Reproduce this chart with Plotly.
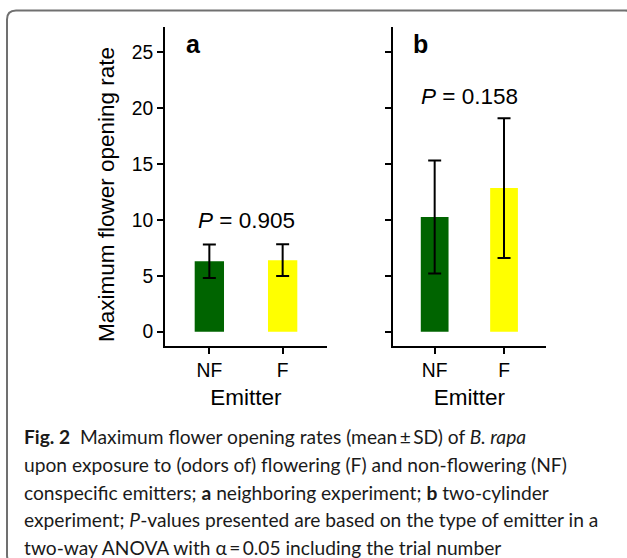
import plotly.graph_objects as go

# ---------------- data ----------------
categories = ["NF", "F"]
bar_colors = ["#006400", "#FFFF00"]
panel_labels = ["a", "b"]
means_a = [6.3, 6.4]
sd_a = [1.5, 1.42]
means_b = [10.25, 12.85]
sd_b = [5.05, 6.25]
p_values = ["0.905", "0.158"]
p_label_y = [9.95, 21.0]
y_ticks = [0, 5, 10, 15, 20, 25]
y_title = "Maximum flower opening rate"
x_title = "Emitter"
caption_lines = [
    "<b>Fig. 2</b>  Maximum flower opening rates (mean\u2009±\u2009SD) of <i>B. rapa</i>",
    "upon exposure to (odors of) flowering (F) and non-flowering (NF)",
    "conspecific emitters; <b>a</b> neighboring experiment; <b>b</b> two-cylinder",
    "experiment; <i>P</i>-values presented are based on the type of emitter in a",
    "two-way ANOVA with α\u2009=\u20090.05 including the trial number",
]

W, H = 627, 558
FONT = "Liberation Sans, Arial, sans-serif"
CAP_FONT = "Lato, Open Sans, sans-serif"

def px(x):
    return x / W

def py(y):
    return (H - y) / H

fig = go.Figure()
x_pos = list(range(len(categories)))

for i, (means, sds) in enumerate([(means_a, sd_a), (means_b, sd_b)]):
    xa = "x" if i == 0 else "x2"
    ya = "y" if i == 0 else "y2"
    fig.add_trace(go.Bar(
        x=x_pos, y=means, width=0.4,
        marker=dict(color=bar_colors, line=dict(width=0)),
        error_y=dict(type="data", array=sds, visible=True, color="black",
                     thickness=2, width=6.5),
        xaxis=xa, yaxis=ya, showlegend=False,
    ))

axis_common = dict(showline=True, linewidth=2, linecolor="black", ticks="outside",
                   ticklen=6, tickwidth=2, tickcolor="black", showgrid=False,
                   zeroline=False, tickfont=dict(family=FONT, size=19.3, color="black"))

x_dom = [(165, 327), (392.7, 546)]
y_dom = [py(346), py(27)]
for i in range(2):
    sfx = "" if i == 0 else "2"
    fig.update_layout(**{
        f"xaxis{sfx}": dict(axis_common, domain=[px(x_dom[i][0]), px(x_dom[i][1])],
                            range=[-0.605, 1.605], tickvals=x_pos, ticktext=categories,
                            anchor="y" + sfx,
                            title=dict(text=x_title, font=dict(family=FONT, size=22.5, color="black"),
                                       standoff=9)),
        f"yaxis{sfx}": dict(axis_common, domain=y_dom, range=[-1.28, 27.25],
                            tickvals=y_ticks, showticklabels=(i == 0),
                            anchor="x" + sfx),
    })
    fig.add_annotation(text=f"<b>{panel_labels[i]}</b>", xref=f"x{sfx} domain", yref="paper",
                       x=0.117, y=py(44), xanchor="left", yanchor="middle", showarrow=False,
                       font=dict(family=FONT, size=25, color="black"))
    fig.add_annotation(text=f"<i>P</i> = {p_values[i]}", xref="x" + sfx, yref="y" + sfx,
                       x=0.5, y=p_label_y[i], xanchor="center", yanchor="middle", showarrow=False,
                       font=dict(family=FONT, size=22.5, color="black"))

fig.add_annotation(text=y_title, xref="paper", yref="paper", x=px(106), y=py(195),
                   textangle=-90, showarrow=False, xanchor="center", yanchor="middle",
                   font=dict(family=FONT, size=22.5, color="black"))

cap_y = [436, 464, 492, 519, 547]
for line, yy in zip(caption_lines, cap_y):
    fig.add_annotation(text=line, xref="paper", yref="paper", x=px(22), y=py(yy),
                       xanchor="left", yanchor="middle", showarrow=False,
                       font=dict(family=CAP_FONT, size=19.2, color="#1a1a1a"))

# rounded border frame
x0, x1, y0, y1, r = 7, 634, 10.5, 564, 9
def P(x, y):
    return f"{px(x)},{py(y)}"
path = (f"M {P(x0, y0 + r)} Q {P(x0, y0)} {P(x0 + r, y0)} L {P(x1 - r, y0)} "
        f"Q {P(x1, y0)} {P(x1, y0 + r)} L {P(x1, y1 - r)} Q {P(x1, y1)} {P(x1 - r, y1)} "
        f"L {P(x0 + r, y1)} Q {P(x0, y1)} {P(x0, y1 - r)} Z")
fig.add_shape(type="path", path=path, xref="paper", yref="paper",
              line=dict(color="#707070", width=2), fillcolor="rgba(0,0,0,0)", layer="below")

fig.update_layout(width=W, height=H, margin=dict(l=0, r=0, t=0, b=0),
                  paper_bgcolor="white", plot_bgcolor="white", showlegend=False)

fig.write_html("out.html")
